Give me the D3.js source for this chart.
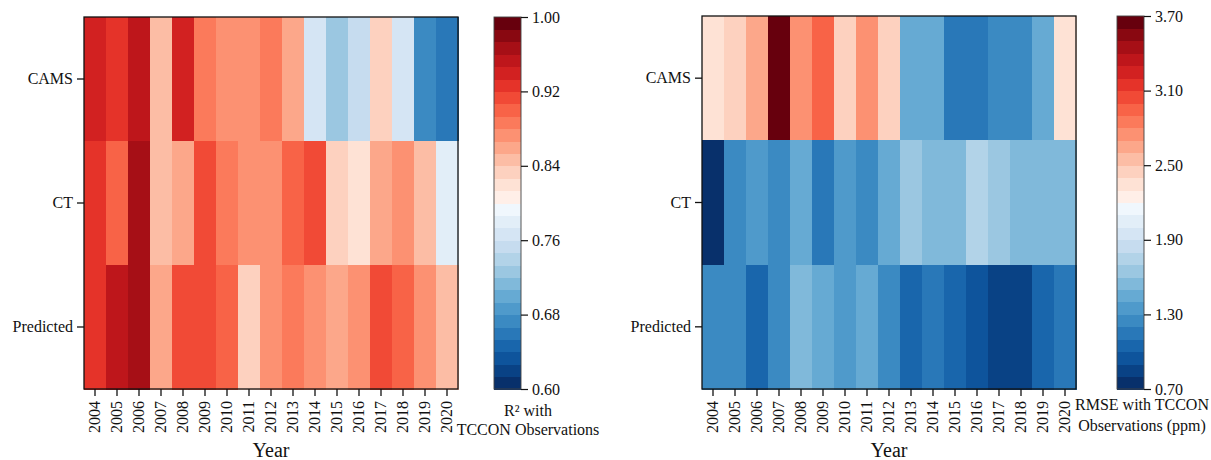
<!DOCTYPE html>
<html>
<head>
<meta charset="utf-8">
<script src="https://cdn.jsdelivr.net/npm/d3@7"></script>
<style>
  html, body { margin: 0; padding: 0; background: #fff; }
  svg { display: block; font-family: "Liberation Serif", "Times New Roman", serif; }
</style>
</head>
<body>
<svg id="chart" width="1211" height="460"></svg>
<script>
// Years on the x axis and products on the y axis
const years = ["2004", "2005", "2006", "2007", "2008", "2009", "2010", "2011", "2012",
               "2013", "2014", "2015", "2016", "2017", "2018", "2019", "2020"];
const sources = ["CAMS", "CT", "Predicted"];

// Annual R² against TCCON observations
const r2CAMS = [0.940, 0.926, 0.953, 0.846, 0.941, 0.886, 0.872, 0.874, 0.887, 0.861, 0.766, 0.727, 0.753, 0.833, 0.767, 0.673, 0.660];
const r2CT   = [0.927, 0.899, 0.966, 0.847, 0.859, 0.913, 0.886, 0.873, 0.871, 0.900, 0.914, 0.834, 0.820, 0.860, 0.874, 0.846, 0.780];
const r2Pred = [0.926, 0.954, 0.967, 0.860, 0.912, 0.914, 0.900, 0.833, 0.873, 0.887, 0.872, 0.859, 0.874, 0.913, 0.899, 0.873, 0.847];

// Annual RMSE against TCCON observations (ppm)
const rmseCAMS = [2.34, 2.46, 2.63, 3.68, 2.77, 2.94, 2.43, 2.72, 2.48, 1.46, 1.42, 1.13, 1.16, 1.25, 1.27, 1.44, 2.36];
const rmseCT   = [0.74, 1.26, 1.35, 1.28, 1.45, 1.14, 1.36, 1.24, 1.47, 1.65, 1.56, 1.55, 1.74, 1.64, 1.57, 1.55, 1.56];
const rmsePred = [1.27, 1.26, 1.04, 1.23, 1.55, 1.44, 1.37, 1.46, 1.22, 1.05, 1.12, 1.03, 0.96, 0.85, 0.84, 1.02, 1.16];

// Colour bar ranges and ticks
const r2Domain = [0.60, 1.00];
const r2Ticks = [0.60, 0.68, 0.76, 0.84, 0.92, 1.00];
const rmseDomain = [0.70, 3.70];
const rmseTicks = [0.70, 1.30, 1.90, 2.50, 3.10, 3.70];

// Diverging palette: Blues (reversed) into Reds, split into 30 discrete levels
const nLevels = 30;
const palette = d3.range(nLevels).map(i => {
  const t = i / (nLevels - 1);
  return t < 0.5 ? d3.interpolateBlues(1 - 2 * t) : d3.interpolateReds(2 * t - 1);
});

const svg = d3.select("#chart");
const textColor = "#111";
const serif = "'Liberation Serif', 'Times New Roman', serif";

function styleAxis(axisG) {
  axisG.attr("font-family", serif).attr("font-size", 16);
  axisG.select(".domain").remove();
  axisG.selectAll(".tick line").attr("stroke", "#111").attr("stroke-width", 1.3);
  axisG.selectAll(".tick text").attr("fill", textColor);
}

function drawPanel(cfg) {
  const g = svg.append("g");
  const x = d3.scaleBand().domain(years).range([cfg.left, cfg.right]).padding(0);
  const y = d3.scaleBand().domain(sources).range([cfg.top, cfg.bottom]).padding(0);
  const color = d3.scaleQuantize().domain(cfg.domain).range(palette);

  const cells = [];
  sources.forEach((s, si) => {
    cfg.rows[si].forEach((v, yi) => cells.push({ source: s, year: years[yi], value: v }));
  });

  g.append("g").selectAll("rect")
    .data(cells)
    .join("rect")
    .attr("x", d => x(d.year))
    .attr("y", d => y(d.source))
    .attr("width", x.bandwidth() + 0.5)
    .attr("height", y.bandwidth() + 0.5)
    .attr("fill", d => color(d.value))
    .attr("shape-rendering", "crispEdges");

  // frame
  g.append("rect")
    .attr("x", cfg.left).attr("y", cfg.top)
    .attr("width", cfg.right - cfg.left).attr("height", cfg.bottom - cfg.top)
    .attr("fill", "none").attr("stroke", "#111").attr("stroke-width", 1.3);

  // y axis
  const yAxis = g.append("g")
    .attr("transform", `translate(${cfg.left},0)`)
    .call(d3.axisLeft(y).tickSize(7).tickPadding(4));
  styleAxis(yAxis);

  // x axis with vertical year labels
  const xAxis = g.append("g")
    .attr("transform", `translate(0,${cfg.bottom})`)
    .call(d3.axisBottom(x).tickSize(7));
  styleAxis(xAxis);
  xAxis.selectAll(".tick text")
    .attr("transform", "rotate(-90)")
    .attr("x", -12).attr("y", 0).attr("dy", "0.33em")
    .style("text-anchor", "end");

  g.append("text")
    .attr("x", (cfg.left + cfg.right) / 2).attr("y", 457)
    .attr("text-anchor", "middle").attr("font-size", 20).attr("fill", textColor)
    .attr("font-family", serif)
    .text("Year");

  // colour bar
  const cb = cfg.cbar;
  const cy = d3.scaleLinear().domain(cfg.domain).range([cfg.bottom, cfg.top]);
  const step = (cfg.domain[1] - cfg.domain[0]) / nLevels;
  const levels = d3.range(nLevels).map(i => ({ lo: cfg.domain[0] + i * step, hi: cfg.domain[0] + (i + 1) * step, c: palette[i] }));
  g.append("g").selectAll("rect")
    .data(levels)
    .join("rect")
    .attr("x", cb.x)
    .attr("y", d => cy(d.hi))
    .attr("width", cb.w)
    .attr("height", d => cy(d.lo) - cy(d.hi) + 0.5)
    .attr("fill", d => d.c)
    .attr("shape-rendering", "crispEdges");
  g.append("rect")
    .attr("x", cb.x).attr("y", cfg.top)
    .attr("width", cb.w).attr("height", cfg.bottom - cfg.top)
    .attr("fill", "none").attr("stroke", "#444").attr("stroke-width", 0.9);

  const cAxis = g.append("g")
    .attr("transform", `translate(${cb.x + cb.w},0)`)
    .call(d3.axisRight(cy).tickValues(cfg.ticks).tickFormat(d3.format(".2f")).tickSize(7).tickPadding(4));
  styleAxis(cAxis);
  cAxis.selectAll(".tick line").attr("stroke-width", 1.2);

  cfg.label.forEach((line, i) => {
    g.append("text")
      .attr("x", cb.labelX).attr("y", cb.labelY[i])
      .attr("text-anchor", "middle").attr("font-size", 16).attr("fill", textColor)
      .attr("font-family", serif)
      .text(line);
  });
}

drawPanel({
  left: 84, right: 458, top: 17, bottom: 389,
  domain: r2Domain, ticks: r2Ticks,
  rows: [r2CAMS, r2CT, r2Pred],
  cbar: { x: 494, w: 27, labelX: 528, labelY: [416, 435] },
  label: ["R² with", "TCCON Observations"]
});

drawPanel({
  left: 702, right: 1076, top: 16, bottom: 389,
  domain: rmseDomain, ticks: rmseTicks,
  rows: [rmseCAMS, rmseCT, rmsePred],
  cbar: { x: 1117, w: 27, labelX: 1142, labelY: [410, 431] },
  label: ["RMSE with TCCON", "Observations (ppm)"]
});
</script>
</body>
</html>
